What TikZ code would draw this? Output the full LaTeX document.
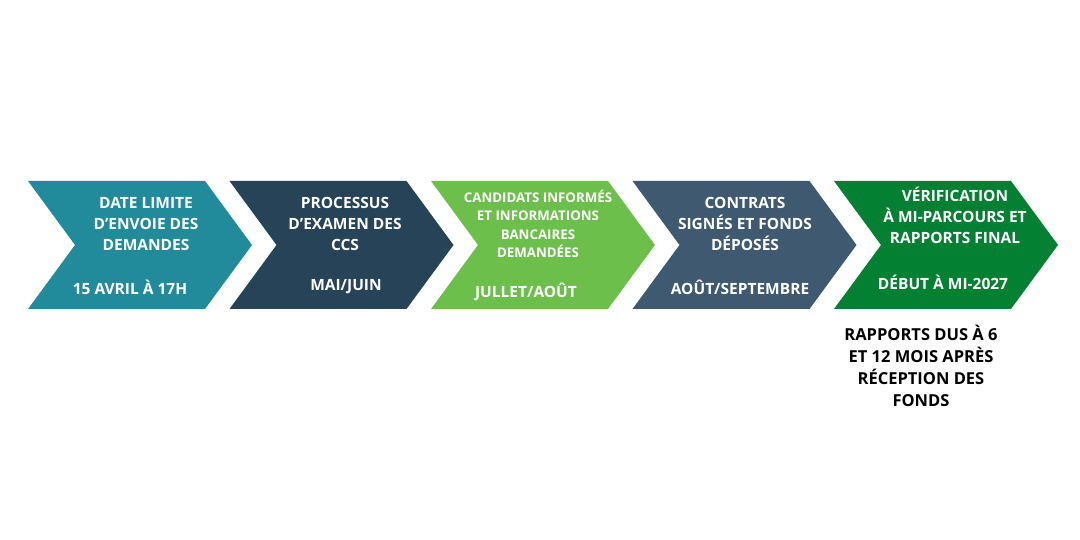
\documentclass[tikz,border=0pt]{standalone}
\usepackage{fontspec}
\setmainfont{Open Sans}
\usetikzlibrary{positioning}
\definecolor{stepteal}{RGB}{34,139,155}
\definecolor{stepnavy}{RGB}{38,67,87}
\definecolor{stepgreen}{RGB}{108,191,75}
\definecolor{stepslate}{RGB}{62,89,112}
\definecolor{stepdkgreen}{RGB}{3,128,50}
\tikzset{
  title/.style={text=white,align=center,font=\bfseries\fontsize{15.5}{21}\selectfont,inner sep=0pt},
  small/.style={text=white,align=center,font=\bfseries\fontsize{13.3}{18.5}\selectfont,inner sep=0pt},
  when/.style={text=white,font=\bfseries\fontsize{15.5}{21}\selectfont,inner sep=0pt},
  note/.style={text=black,align=center,font=\bfseries\fontsize{16.5}{22}\selectfont,inner sep=0pt}
}
\begin{document}
\begin{tikzpicture}[x=1pt,y=-1pt]
\useasboundingbox (0,0) rectangle (1080,540);
\foreach \i/\c in {0/stepteal,1/stepnavy,2/stepgreen,3/stepslate,4/stepdkgreen}
  \fill[\c] ({28+201.5*\i},181) -- ++(177,0) -- ++(47,64) -- ++(-47,64) -- ++(-177,0) -- ++(47,-64) -- cycle;
\node[title] (t1) at (146,224) {DATE LIMITE\\D’ENVOIE DES\\DEMANDES};
\node[when] (d1) at (130,287) {15 AVRIL À 17H};
\node[title] (t2) at (345,224) {PROCESSUS\\D’EXAMEN DES\\CCS};
\node[when] (d2) at (346,287) {MAI/JUIN};
\node[small] (t3) at (538,224) {CANDIDATS INFORMÉS\\ET INFORMATIONS\\BANCAIRES\\DEMANDÉES};
\node[when] (d3) at (526,292) {JULLET/AOÛT};
\node[title] (t4) at (745,224) {CONTRATS\\SIGNÉS ET FONDS\\DÉPOSÉS};
\node[when] (d4) at (740,287) {AOÛT/SEPTEMBRE};
\node[title] (t5) at (955,215) {VÉRIFICATION\\À MI-PARCOURS ET\\RAPPORTS FINAL};
\node[when] (d5) at (943,282) {DÉBUT À MI-2027};
\node[note] (n5) at (921,366) {RAPPORTS DUS À 6\\ET 12 MOIS APRÈS\\RÉCEPTION DES\\FONDS};
\end{tikzpicture}
\end{document}
